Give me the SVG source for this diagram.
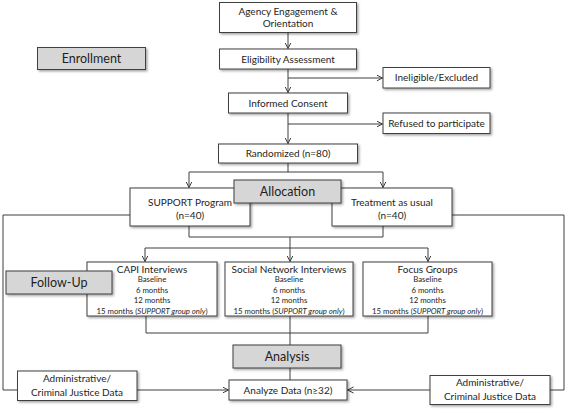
<svg xmlns="http://www.w3.org/2000/svg" width="567" height="409" viewBox="0 0 567 409">
<style>
.b{fill:#fff;stroke:#3f3f3f;stroke-width:1}
.g{fill:#d6d6d6;stroke:#3f3f3f;stroke-width:1}
.l{fill:none;stroke:#3f3f3f;stroke-width:1}
.a{fill:none;stroke:#3f3f3f;stroke-width:1;marker-end:url(#arr)}
text{font-family:Lato,"Liberation Sans",sans-serif;fill:#1e1e1e;text-anchor:middle}
.t{font-size:10px}
.s{font-size:7.8px}
.h{font-size:12.5px}
</style>
<defs>
<marker id="arr" markerWidth="8" markerHeight="8" refX="6" refY="3.5" orient="auto" markerUnits="userSpaceOnUse">
<path d="M0,0.5 L6,3.5 L0,6.5" fill="none" stroke="#3f3f3f" stroke-width="1"/>
</marker>
<filter id="sh" x="-10%" y="-10%" width="125%" height="140%">
<feDropShadow dx="1.5" dy="1.5" stdDeviation="0.8" flood-color="#000" flood-opacity="0.35"/>
</filter>
</defs>

<g id="connectors">
<path class="a" d="M288,33 V48.5"/>
<path class="a" d="M288,69 V92.5"/>
<path class="a" d="M288,78 H382.5"/>
<path class="a" d="M288,113 V143.5"/>
<path class="a" d="M288,124 H382.5"/>
<path class="l" d="M288,163 V172"/>
<path class="l" d="M189,172 H383"/>
<path class="a" d="M189,172 V187.5"/>
<path class="a" d="M383,172 V187.5"/>
<path class="l" d="M189,226 V237 H383 V226"/>
<path class="l" d="M290,237 V248"/>
<path class="l" d="M145,248 H428"/>
<path class="a" d="M145,248 V261.5"/>
<path class="a" d="M290,248 V261.5"/>
<path class="a" d="M428,248 V261.5"/>
<path class="l" d="M146,316 V333 H428 V316"/>
<path class="l" d="M290,316 V345"/>
<path class="l" d="M290,368 V380"/>
<path class="l" d="M130,215 H3 V390 H17"/>
<path class="l" d="M452,215 H564 V390 H550"/>
<path class="a" d="M137,390 H228.5"/>
<path class="a" d="M430,390 H347.5"/>
</g>

<g id="agency"><rect class="b" x="219.5" y="2.5" width="137" height="30" filter="url(#sh)"/>
<text class="t" x="288" y="14.5">Agency Engagement &amp;</text><text class="t" x="288" y="27">Orientation</text></g>
<g id="enrollment"><rect class="g" x="37.5" y="47.5" width="108" height="22" filter="url(#sh)"/>
<text class="h" x="91.5" y="63">Enrollment</text></g>
<g id="eligibility"><rect class="b" x="219.5" y="49" width="137" height="20" filter="url(#sh)"/>
<text class="t" x="288" y="62.5">Eligibility Assessment</text></g>
<g id="ineligible"><rect class="b" x="383" y="67.5" width="107" height="20.5" filter="url(#sh)"/>
<text class="t" x="436.5" y="81">Ineligible/Excluded</text></g>
<g id="consent"><rect class="b" x="228.5" y="93" width="119" height="20" filter="url(#sh)"/>
<text class="t" x="288" y="106.5">Informed Consent</text></g>
<g id="refused"><rect class="b" x="383" y="113" width="107" height="20.5" filter="url(#sh)"/>
<text class="t" x="436.5" y="127">Refused to participate</text></g>
<g id="randomized"><rect class="b" x="218.5" y="144" width="139" height="19" filter="url(#sh)"/>
<text class="t" x="288" y="157">Randomized (n=80)</text></g>
<g id="support"><rect class="b" x="130" y="188" width="120" height="38" filter="url(#sh)"/>
<text class="t" x="190" y="206">SUPPORT Program</text><text class="t" x="190" y="219">(n=40)</text></g>
<g id="treatment"><rect class="b" x="332" y="188" width="120" height="38" filter="url(#sh)"/>
<text class="t" x="392" y="206">Treatment as usual</text><text class="t" x="392" y="219">(n=40)</text></g>
<g id="allocation"><rect class="g" x="234" y="180" width="107" height="23" filter="url(#sh)"/>
<text class="h" x="287.5" y="196">Allocation</text></g>
<g id="capi"><rect class="b" x="87" y="262" width="130" height="54" filter="url(#sh)"/>
<text class="t" x="152" y="272.5">CAPI Interviews</text>
<text class="s" x="152" y="282">Baseline</text><text class="s" x="152" y="292.5">6 months</text><text class="s" x="152" y="303">12 months</text>
<text class="s" x="152" y="313.5">15 months (<tspan font-style="italic">SUPPORT group only</tspan>)</text></g>
<g id="social"><rect class="b" x="225" y="262" width="128" height="54" filter="url(#sh)"/>
<text class="t" x="289" y="272.5">Social Network Interviews</text>
<text class="s" x="289" y="282">Baseline</text><text class="s" x="289" y="292.5">6 months</text><text class="s" x="289" y="303">12 months</text>
<text class="s" x="289" y="313.5">15 months (<tspan font-style="italic">SUPPORT group only</tspan>)</text></g>
<g id="focus"><rect class="b" x="363" y="262" width="129" height="54" filter="url(#sh)"/>
<text class="t" x="427.5" y="272.5">Focus Groups</text>
<text class="s" x="427.5" y="282">Baseline</text><text class="s" x="427.5" y="292.5">6 months</text><text class="s" x="427.5" y="303">12 months</text>
<text class="s" x="427.5" y="313.5">15 months (<tspan font-style="italic">SUPPORT group only</tspan>)</text></g>
<g id="followup"><rect class="g" x="6" y="271" width="106" height="23" filter="url(#sh)"/>
<text class="h" x="59" y="287">Follow-Up</text></g>
<g id="analysis"><rect class="g" x="233" y="345" width="108" height="23" filter="url(#sh)"/>
<text class="h" x="287" y="361">Analysis</text></g>
<g id="analyze"><rect class="b" x="229" y="380" width="118" height="20" filter="url(#sh)"/>
<text class="t" x="288" y="393.5">Analyze Data (n≥32)</text></g>
<g id="admin-left"><rect class="b" x="17.5" y="371" width="119.5" height="29.5" filter="url(#sh)"/>
<text class="t" x="77" y="382">Administrative/</text><text class="t" x="77" y="396">Criminal Justice Data</text></g>
<g id="admin-right"><rect class="b" x="430" y="375.5" width="120" height="29" filter="url(#sh)"/>
<text class="t" x="490" y="386">Administrative/</text><text class="t" x="490" y="400">Criminal Justice Data</text></g>
</svg>
